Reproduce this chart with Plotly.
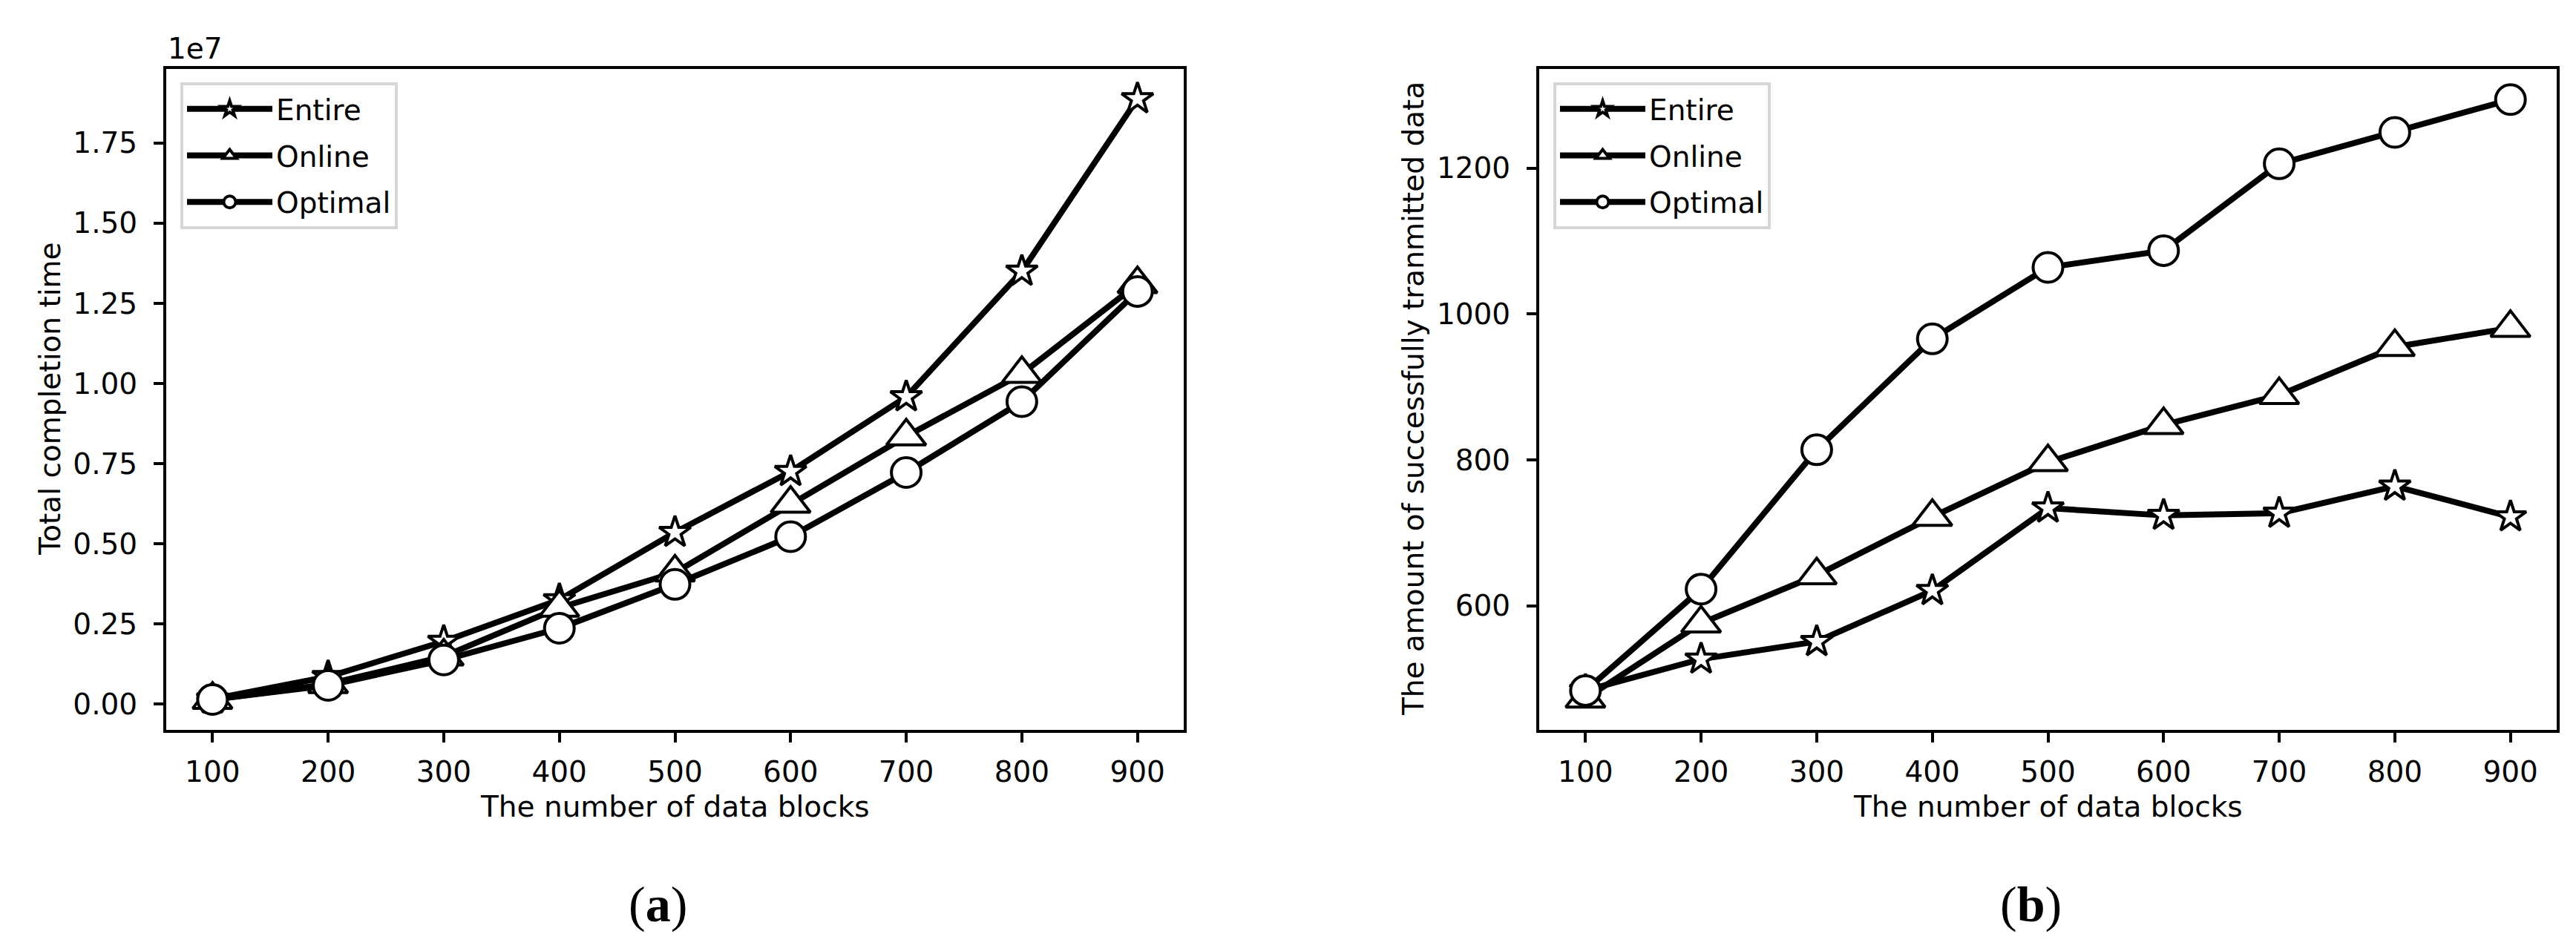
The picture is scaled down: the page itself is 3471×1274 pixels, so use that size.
import plotly.graph_objects as go
from plotly.subplots import make_subplots

# Dados
blocos = [100, 200, 300, 400, 500, 600, 700, 800, 900]

# (a) tempo total de conclusão
tempo_entire = [0.015e7, 0.085e7, 0.195e7, 0.325e7, 0.535e7, 0.725e7, 0.958e7, 1.35e7, 1.888e7]
tempo_online = [0.013e7, 0.062e7, 0.148e7, 0.30e7, 0.41e7, 0.625e7, 0.835e7, 1.03e7, 1.31e7]
tempo_optimal = [0.014e7, 0.058e7, 0.137e7, 0.236e7, 0.373e7, 0.522e7, 0.722e7, 0.943e7, 1.287e7]

# (b) quantidade de dados transmitidos com sucesso
dados_entire = [484, 527, 551, 621, 734, 724, 727, 764, 722]
dados_online = [473, 576, 642, 722, 797, 848, 889, 955, 981]
dados_optimal = [484, 623, 814, 966, 1064, 1087, 1206, 1249, 1294]

ticks_a = [0, 0.25e7, 0.5e7, 0.75e7, 1.0e7, 1.25e7, 1.5e7, 1.75e7]
ticks_a_txt = ['0.00', '0.25', '0.50', '0.75', '1.00', '1.25', '1.50', '1.75']
ticks_b = [600, 800, 1000, 1200]

series = ['Entire', 'Online', 'Optimal']
simbolos = {'Entire': 'star', 'Online': 'triangle-up', 'Optimal': 'circle'}
tamanhos = {'Entire': 32, 'Online': 46, 'Optimal': 40}

fonte = 'DejaVu Sans'
W, H = 3471, 1274

fig = make_subplots(rows=1, cols=2)

# Gráfico (a) e (b)
paineis = [
    (1, 'legend', 'a', [tempo_entire, tempo_online, tempo_optimal]),
    (2, 'legend2', 'b', [dados_entire, dados_online, dados_optimal]),
]
for col, leg, grupo, valores in paineis:
    for nome, y in zip(series, valores):
        fig.add_trace(go.Scatter(
            x=blocos, y=y, name=nome, mode='lines+markers',
            line=dict(color='black', width=8),
            marker=dict(symbol=simbolos[nome], size=tamanhos[nome], color='white',
                        line=dict(color='black', width=4)),
            legend=leg, legendgroup=grupo + nome
        ), row=1, col=col)

eixo = dict(showline=True, linecolor='black', linewidth=4, mirror=True,
            ticks='outside', ticklen=13, tickwidth=4, tickcolor='black',
            showgrid=False, zeroline=False,
            tickfont=dict(family=fonte, size=39, color='black'))

fig.update_xaxes(**eixo, range=[60, 940], tickvals=blocos, ticklabelstandoff=6)
fig.update_xaxes(domain=[216 / W, 1587 / W], row=1, col=1)
fig.update_xaxes(domain=[2066 / W, 3437 / W], row=1, col=2)

fig.update_yaxes(**eixo, ticklabelstandoff=14)
fig.update_yaxes(domain=[1 - 976 / H, 1 - 85 / H])
fig.update_yaxes(range=[-0.081e7, 1.981e7], tickvals=ticks_a, ticktext=ticks_a_txt,
                 row=1, col=1)
fig.update_yaxes(range=[430, 1336], tickvals=ticks_b, row=1, col=2)

legenda = dict(xanchor='left', yanchor='top', y=1 - 103 / H,
               bgcolor='white', bordercolor='#d6d6d6', borderwidth=4,
               font=dict(family=fonte, size=39, color='black'),
               itemsizing='trace', itemwidth=115, tracegroupgap=9)


def texto(t, x, y, tam=39, ang=0, familia=fonte, xa='center', ya='middle'):
    return dict(text=t, x=x / W, y=1 - y / H, xref='paper', yref='paper',
                xanchor=xa, yanchor=ya, showarrow=False, textangle=ang,
                font=dict(family=familia, size=tam, color='black'))


fig.update_layout(
    width=W, height=H, autosize=False,
    margin=dict(l=0, r=0, t=0, b=0),
    plot_bgcolor='white', paper_bgcolor='white',
    showlegend=True,
    legend=dict(legenda, x=235 / W),
    legend2=dict(legenda, x=2085 / W),
    annotations=[
        texto('1e7', 216, 82, xa='left', ya='bottom'),
        texto('Total completion time', 60, 530, ang=-90),
        texto('The amount of successfully tranmitted data', 1897, 530, ang=-90),
        texto('The number of data blocks', 901, 1079),
        texto('The number of data blocks', 2751, 1079),
        texto('(<b>a</b>)', 878, 1211, tam=68, familia='Liberation Serif'),
        texto('(<b>b</b>)', 2728, 1211, tam=68, familia='Liberation Serif'),
    ]
)

fig.write_html('out.html')
